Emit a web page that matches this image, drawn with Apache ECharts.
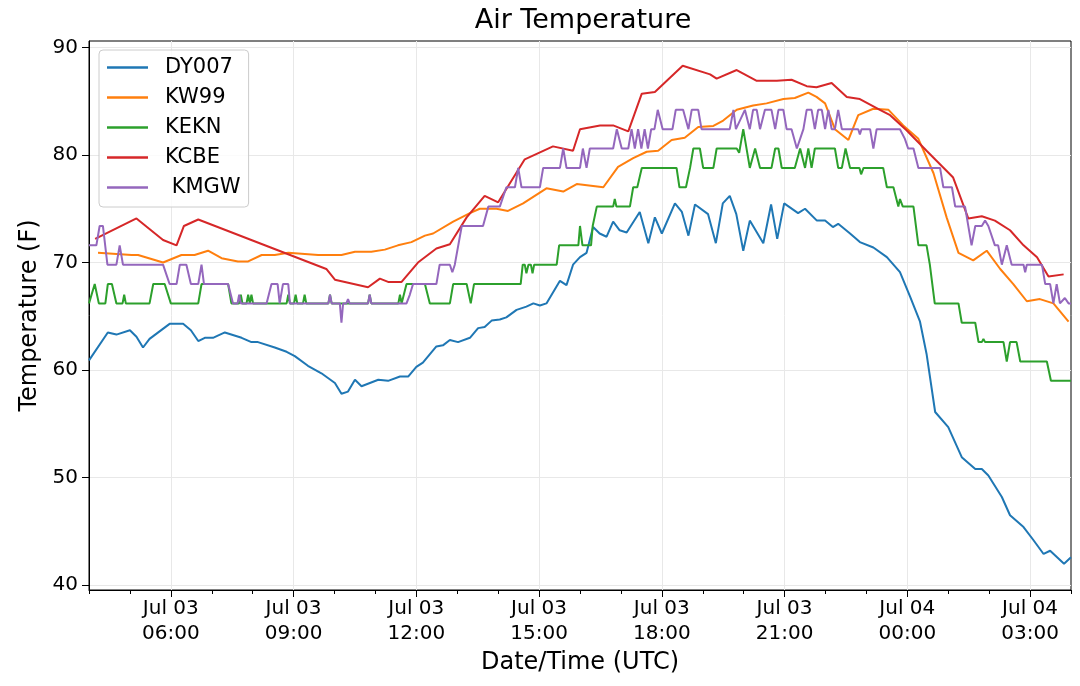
<!DOCTYPE html>
<html>
<head>
    <meta charset="utf-8">
    <title>Air Temperature</title>
    <script type="text/javascript" src="https://cdn.jsdelivr.net/npm/echarts@6/dist/echarts.min.js"></script>
    <style>
        html, body { margin: 0; padding: 0; background: #fff; }
        #main { width: 1080px; height: 686px; }
    </style>
</head>
<body>
    <div id="main"></div>
    <script type="text/javascript">
        // hours after Jul 03 04:00 UTC, temperature in F
        var dy007 = [[0,60.9],[0.46,63.5],[0.67,63.3],[1.0,63.7],[1.16,63.1],[1.32,62.1],[1.48,62.9],[1.97,64.3],[2.30,64.3],[2.49,63.7],
            [2.67,62.7],[2.83,63.0],[3.03,63.0],[3.32,63.5],[3.73,63.0],[3.97,62.6],[4.13,62.6],[4.54,62.1],[4.83,61.7],[5.03,61.3],
            [5.35,60.4],[5.68,59.7],[6.01,58.8],[6.17,57.8],[6.33,58.0],[6.50,59.1],[6.66,58.5],[7.07,59.1],[7.31,59.0],[7.60,59.4],
            [7.80,59.4],[8.0,60.3],[8.16,60.7],[8.49,62.2],[8.65,62.3],[8.82,62.8],[9.02,62.6],[9.31,63.0],[9.51,63.9],[9.67,64.0],
            [9.84,64.6],[10.04,64.7],[10.2,64.9],[10.45,65.6],[10.69,65.9],[10.86,66.2],[11.02,66.0],[11.18,66.2],[11.51,68.3],[11.67,67.9],
            [11.83,69.8],[12.0,70.5],[12.16,70.9],[12.32,73.3],[12.48,72.7],[12.65,72.4],[12.81,73.8],[12.97,73.0],[13.14,72.8],[13.46,74.7],
            [13.67,71.8],[13.83,74.2],[14.0,72.7],[14.32,75.5],[14.49,74.7],[14.65,72.5],[14.81,75.4],[15.13,74.5],[15.32,71.8],[15.49,75.5],
            [15.66,76.2],[15.82,74.5],[15.99,71.1],[16.15,73.9],[16.48,71.8],[16.67,75.4],[16.82,72.2],[16.99,75.5],[17.33,74.6],[17.50,75.0],
            [17.79,73.9],[17.99,73.9],[18.18,73.3],[18.31,73.6],[18.60,72.7],[18.84,71.9],[19.17,71.4],[19.50,70.5],[19.82,69.1],[20.07,66.8],
            [20.31,64.5],[20.47,61.5],[20.68,56.1],[21.0,54.7],[21.33,51.9],[21.66,50.8],[21.82,50.8],[21.98,50.2],[22.31,48.2],[22.51,46.5],
            [22.84,45.4],[23.08,44.2],[23.33,42.9],[23.49,43.2],[23.83,42.0],[24.0,42.6]];

        var kw99 = [[0.22,70.9],[1.04,70.7],[1.20,70.7],[1.81,70.0],[2.26,70.7],[2.58,70.7],[2.91,71.1],[3.24,70.4],[3.64,70.1],[3.89,70.1],
            [4.22,70.7],[4.54,70.7],[4.87,70.9],[5.6,70.7],[6.17,70.7],[6.50,71.0],[6.90,71.0],[7.23,71.2],[7.55,71.6],[7.88,71.9],
            [8.21,72.5],[8.41,72.7],[8.90,73.8],[9.31,74.6],[9.55,75.0],[9.96,75.0],[10.24,74.8],[10.61,75.5],[11.18,76.9],[11.59,76.6],
            [11.92,77.3],[12.57,77.0],[12.93,78.9],[13.30,79.7],[13.63,80.3],[13.91,80.4],[14.24,81.4],[14.56,81.6],[14.89,82.6],[15.26,82.7],
            [15.5,83.2],[15.83,84.2],[16.23,84.6],[16.56,84.8],[16.97,85.2],[17.25,85.3],[17.58,85.8],[17.78,85.4],[17.99,84.8],[18.23,82.4],
            [18.56,81.4],[18.80,83.7],[19.17,84.3],[19.54,84.2],[19.90,82.75],[20.27,81.5],[20.64,78.3],[20.96,74.2],[21.25,70.9],[21.61,70.2],
            [21.94,71.1],[22.27,69.4],[22.59,68.0],[22.92,66.4],[23.24,66.6],[23.57,66.2],[23.94,64.5]];

        var kekn = [[0,66.2],[0.14,68.0],[0.24,66.2],[0.40,66.2],[0.46,68.0],[0.56,68.0],[0.67,66.2],[0.82,66.2],[0.86,67.0],[0.90,66.2],
            [1.48,66.2],[1.57,68.0],[1.85,68.0],[2.0,66.2],[2.67,66.2],[2.75,68.0],[3.40,68.0],[3.48,66.2],[3.67,66.2],[3.71,67.0],
            [3.75,66.2],[3.85,66.2],[3.89,67.0],[3.93,66.2],[3.97,67.0],[4.01,66.2],[4.83,66.2],[4.87,67.0],[4.91,66.2],[5.01,66.2],
            [5.05,67.0],[5.09,66.2],[5.23,66.2],[5.27,67.0],[5.31,66.2],[5.85,66.2],[5.89,67.0],[5.93,66.2],[6.82,66.2],[6.86,67.0],
            [6.90,66.2],[7.56,66.2],[7.60,67.0],[7.64,66.2],[7.76,68.0],[8.21,68.0],[8.33,66.2],[8.82,66.2],[8.90,68.0],[9.23,68.0],
            [9.33,66.2],[9.41,68.0],[10.55,68.0],[10.60,69.8],[10.65,69.8],[10.69,69.0],[10.74,69.8],[10.80,69.8],[10.84,69.0],[10.88,69.8],
            [11.43,69.8],[11.49,71.6],[11.96,71.6],[12.0,73.4],[12.06,71.6],[12.27,71.6],[12.31,73.4],[12.41,75.2],[12.81,75.2],[12.85,75.9],
            [12.89,75.2],[13.22,75.2],[13.30,77.0],[13.40,77.0],[13.51,78.8],[14.36,78.8],[14.43,77.0],[14.59,77.0],[14.69,78.8],[14.77,80.6],
            [14.93,80.6],[15.01,78.8],[15.26,78.8],[15.34,80.6],[15.83,80.6],[15.89,80.2],[15.99,82.4],[16.15,78.8],[16.28,80.6],[16.40,78.8],
            [16.68,78.8],[16.77,80.6],[16.85,80.6],[16.93,78.8],[17.25,78.8],[17.38,80.6],[17.50,78.8],[17.58,80.6],[17.66,78.8],[17.74,80.6],
            [18.23,80.6],[18.31,78.8],[18.40,78.8],[18.49,80.6],[18.60,78.8],[18.83,78.8],[18.87,78.2],[18.93,78.8],[19.41,78.8],[19.50,77.0],
            [19.66,77.0],[19.78,75.2],[19.82,75.9],[19.89,75.2],[20.15,75.2],[20.27,71.6],[20.47,71.6],[20.55,69.8],[20.67,66.2],[21.25,66.2],
            [21.33,64.4],[21.66,64.4],[21.74,62.6],[21.82,62.6],[21.86,62.9],[21.90,62.6],[22.35,62.6],[22.43,60.8],[22.51,62.6],[22.67,62.6],
            [22.76,60.8],[23.41,60.8],[23.51,59.0],[24.0,59.0]];

        var kcbe = [[0.15,72.2],[1.16,74.1],[1.81,72.1],[2.14,71.6],[2.32,73.4],[2.67,74.0],[5.80,69.4],[6.01,68.4],[6.82,67.7],[7.11,68.5],
            [7.31,68.2],[7.64,68.2],[8.04,70.0],[8.49,71.3],[8.82,71.7],[9.23,74.2],[9.67,76.2],[10.0,75.6],[10.65,79.6],[11.34,80.8],
            [11.83,80.4],[12.0,82.4],[12.49,82.75],[12.81,82.75],[13.18,82.2],[13.51,85.7],[13.83,85.85],[14.51,88.3],[15.18,87.5],[15.34,87.1],
            [15.83,87.9],[16.32,86.9],[16.81,86.9],[17.17,87.0],[17.54,86.4],[17.78,86.3],[18.15,86.7],[18.52,85.4],[18.84,85.2],[19.33,84.2],
            [19.58,83.7],[19.98,82.3],[20.47,80.4],[21.12,77.9],[21.49,74.1],[21.82,74.3],[22.14,73.9],[22.51,73.0],[22.84,71.6],[23.17,70.5],
            [23.45,68.7],[23.82,68.9]];

        var kmgw = [[0,71.6],[0.18,71.6],[0.26,73.4],[0.34,73.4],[0.45,69.8],[0.67,69.8],[0.75,71.6],[0.83,69.8],[1.81,69.8],[1.89,68.9],
            [1.97,68.0],[2.14,68.0],[2.22,69.8],[2.38,69.8],[2.49,68.0],[2.67,68.0],[2.75,69.8],[2.81,68.0],[3.40,68.0],[3.52,66.2],
            [3.63,66.2],[3.67,67.0],[3.71,66.2],[4.34,66.2],[4.46,68.0],[4.61,68.0],[4.66,66.2],[4.74,68.0],[4.87,68.0],[4.91,66.2],
            [5.85,66.2],[5.89,67.0],[5.93,66.2],[6.13,66.2],[6.17,64.4],[6.21,66.2],[6.29,66.2],[6.33,66.6],[6.37,66.2],[6.82,66.2],
            [6.86,67.0],[6.90,66.2],[7.76,66.2],[7.84,67.0],[7.92,68.0],[8.49,68.0],[8.57,69.8],[8.82,69.8],[8.88,69.1],[8.94,69.8],
            [9.11,73.4],[9.63,73.4],[9.76,75.2],[10.04,75.2],[10.20,77.0],[10.41,77.0],[10.49,78.8],[10.57,77.0],[11.02,77.0],[11.10,78.8],
            [11.51,78.8],[11.59,80.6],[11.67,78.8],[12.0,78.8],[12.07,80.6],[12.16,78.8],[12.24,80.6],[12.81,80.6],[12.90,82.4],[13.02,80.6],
            [13.18,80.6],[13.26,82.4],[13.34,80.6],[13.42,82.4],[13.50,80.6],[13.58,82.4],[13.66,80.6],[13.74,82.4],[13.82,82.4],[13.90,84.2],
            [14.02,82.4],[14.26,82.4],[14.34,84.2],[14.52,84.2],[14.65,82.4],[14.73,84.2],[14.89,84.2],[14.97,82.4],[15.66,82.4],[15.75,84.2],
            [15.81,82.4],[16.03,84.2],[16.15,82.4],[16.23,84.2],[16.32,84.2],[16.40,82.4],[16.52,84.2],[16.68,84.2],[16.77,82.4],[16.85,84.2],
            [16.97,84.2],[17.05,82.4],[17.17,82.4],[17.30,80.6],[17.46,82.4],[17.54,84.2],[17.66,84.2],[17.74,82.4],[17.82,84.2],[17.91,84.2],
            [17.99,82.4],[18.07,84.2],[18.15,82.4],[18.23,82.4],[18.31,84.2],[18.40,82.4],[18.80,82.4],[18.84,81.9],[18.88,82.4],[19.09,82.4],
            [19.17,80.6],[19.25,82.4],[19.82,82.4],[19.94,81.5],[20.02,80.6],[20.15,80.6],[20.27,78.8],[20.80,78.8],[20.88,77.0],[21.09,77.0],
            [21.17,75.2],[21.41,75.2],[21.57,71.6],[21.66,73.4],[21.82,73.4],[21.90,73.9],[21.98,73.4],[22.14,71.6],[22.22,71.6],[22.31,69.8],
            [22.35,69.8],[22.43,71.6],[22.55,69.8],[22.84,69.8],[22.88,69.1],[22.92,69.8],[23.29,69.8],[23.37,68.0],[23.49,68.0],[23.57,66.2],
            [23.65,68.0],[23.73,66.2],[23.85,66.7],[23.94,66.2],[24.0,66.2]];

        var stationNames = ['DY007', 'KW99', 'KEKN', 'KCBE', ' KMGW'];
        var stationColors = ['#1f77b4', '#ff7f0e', '#2ca02c', '#d62728', '#9467bd'];

        // axis ticks: x in hours of Jul 03 (4 = 04:00, 28 = Jul 04 04:00)
        var startHour = 4;
        var xMajorTicks = [6, 9, 12, 15, 18, 21, 24, 27];
        var yTicks = [40, 50, 60, 70, 80, 90];

        var FONT = 'DejaVu Sans';
        var myChart = echarts.init(document.getElementById('main'));

        function toSeriesData(arr) {
            return arr.map(function (p) { return [startHour + p[0], p[1]]; });
        }

        function xLabel(v) {
            var hr = Math.round(v) % 24;
            var day = v < 24 ? 'Jul 03' : 'Jul 04';
            return day + '\n' + (hr < 10 ? '0' : '') + hr + ':00';
        }

        var allData = [dy007, kw99, kekn, kcbe, kmgw];
        var series = [];
        for (var i = 0; i < allData.length; i++) {
            series.push({
                name: stationNames[i],
                type: 'line',
                xAxisIndex: 0,
                showSymbol: false,
                symbol: 'none',
                color: stationColors[i],
                lineStyle: { width: 2, color: stationColors[i] },
                data: toSeriesData(allData[i])
            });
        }

        var option = {
            animation: false,
            backgroundColor: '#fff',
            title: {
                text: 'Air Temperature',
                left: 578,
                textAlign: 'center',
                top: 2,
                textStyle: { fontFamily: FONT, fontSize: 27, fontWeight: 'normal', color: '#000' }
            },
            legend: {
                orient: 'vertical',
                left: 99,
                top: 50,
                padding: [7, 8, 9, 8],
                itemGap: 9,
                itemWidth: 41,
                itemHeight: 2.5,
                icon: 'rect',
                backgroundColor: 'rgba(255,255,255,0.8)',
                borderColor: '#cccccc',
                borderWidth: 1,
                borderRadius: 4,
                data: stationNames,
                textStyle: { fontFamily: FONT, fontSize: 21, color: '#000', lineHeight: 21, padding: [0, 0, 0, 12] }
            },
            grid: {
                left: 89,
                right: 9,
                top: 41,
                bottom: 96,
                show: true,
                borderColor: '#000',
                borderWidth: 1,
                backgroundColor: 'transparent'
            },
            xAxis: [
                {
                    type: 'value',
                    min: 4,
                    max: 28,
                    name: 'Date/Time (UTC)',
                    nameLocation: 'middle',
                    nameGap: 54,
                    nameTextStyle: { fontFamily: FONT, fontSize: 24, color: '#000' },
                    axisLine: { show: true, onZero: false, lineStyle: { color: '#000', width: 1 } },
                    axisTick: { show: true, length: 7, customValues: xMajorTicks, lineStyle: { color: '#000' } },
                    axisLabel: {
                        customValues: xMajorTicks,
                        formatter: xLabel,
                        fontFamily: FONT, fontSize: 20, color: '#000', lineHeight: 25, margin: 6
                    },
                    splitLine: { show: true, lineStyle: { color: '#e8e8e8', width: 1 } }
                },
                {
                    type: 'value',
                    min: 4,
                    max: 28,
                    interval: 1,
                    position: 'bottom',
                    axisLine: { show: false },
                    axisTick: { show: true, length: 4, lineStyle: { color: '#000' } },
                    axisLabel: { show: false },
                    splitLine: { show: false }
                }
            ],
            yAxis: {
                type: 'value',
                min: 39.55,
                max: 90.6,
                name: 'Temperature (F)',
                nameLocation: 'middle',
                nameGap: 37,
                nameRotate: 90,
                nameTextStyle: { fontFamily: FONT, fontSize: 24, color: '#000' },
                axisLine: { show: true, lineStyle: { color: '#000', width: 1 } },
                axisTick: { show: true, length: 7, customValues: yTicks, lineStyle: { color: '#000' } },
                axisLabel: { customValues: yTicks, fontFamily: FONT, fontSize: 20, color: '#000', margin: 11 },
                splitLine: { show: true, lineStyle: { color: '#e8e8e8', width: 1 } }
            },
            series: series
        };

        myChart.setOption(option);
    </script>
</body>
</html>
